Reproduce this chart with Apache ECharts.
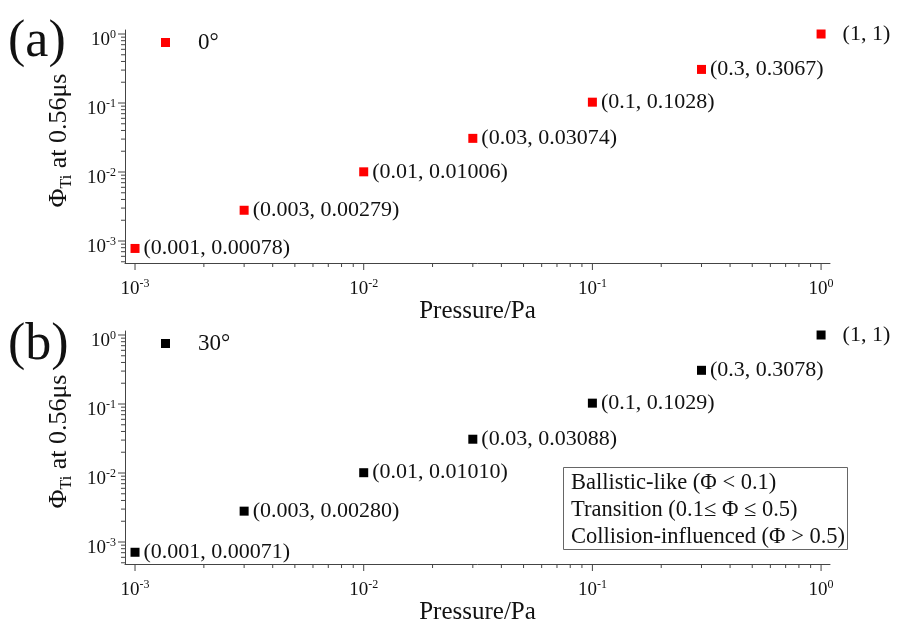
<!DOCTYPE html>
<html>
<head>
<meta charset="utf-8">
<script src="https://cdn.jsdelivr.net/npm/echarts@6.0.0/dist/echarts.min.js"></script>
<style>
html, body { margin: 0; padding: 0; background: #fff; }
#chart { width: 897px; height: 629px; }
</style>
</head>
<body>
<div id="chart"></div>
<script>
// measured values
var pressure = [0.001, 0.003, 0.01, 0.03, 0.1, 0.3, 1];
var pressureText = ['0.001', '0.003', '0.01', '0.03', '0.1', '0.3', '1'];
var phiA = [0.00078, 0.00279, 0.01006, 0.03074, 0.1028, 0.3067, 1];
var phiAText = ['0.00078', '0.00279', '0.01006', '0.03074', '0.1028', '0.3067', '1'];
var phiB = [0.00071, 0.00280, 0.01010, 0.03088, 0.1029, 0.3078, 1];
var phiBText = ['0.00071', '0.00280', '0.01010', '0.03088', '0.1029', '0.3078', '1'];
var xRange = [0.000904, 1.094];
var yRange = [0.00048, 1.143];
var panelNames = ['(a)', '(b)'];
var angleNames = ['0°', '30°'];
var regimeLines = ['Ballistic-like (Φ < 0.1)', 'Transition (0.1≤ Φ ≤ 0.5)', 'Collision-influenced (Φ > 0.5)'];

var SERIF = "'Liberation Serif', 'Times New Roman', serif";
var INK = '#111';
var AXIS = '#444';

// tick marks at 1..9 x 10^n inside the axis ranges
function tickList(range) {
  var out = [];
  for (var e = -4; e <= 0; e++) {
    for (var k = 1; k <= 9; k++) {
      var v = k * Math.pow(10, e);
      if (v >= range[0] && v <= range[1]) out.push([v, k === 1 ? 1 : 0]);
    }
  }
  return out;
}
var xTicks = tickList(xRange), yTicks = tickList(yRange);
var tickData = [];
xTicks.forEach(function (t) { tickData.push([0, t[0], t[1]]); });
yTicks.forEach(function (t) { tickData.push([1, t[0], t[1]]); });

function powLabel(v) {
  var e = Math.log10(v), r = Math.round(e);
  if (Math.abs(e - r) > 1e-6) return '';
  return '{b|10}{sup|' + r + '}';
}
var labelRich = {
  b: { fontFamily: SERIF, fontSize: 19, lineHeight: 22, color: INK },
  sup: { fontFamily: SERIF, fontSize: 12, lineHeight: 12, verticalAlign: 'top', color: INK }
};

var grids = [], xAxes = [], yAxes = [], series = [], legends = [], graphics = [];
var tops = [30, 331];
var colors = ['#ff0000', '#000000'];
var phis = [phiA, phiB], phiTexts = [phiAText, phiBText];

for (var i = 0; i < 2; i++) {
  grids.push({ left: 125, top: tops[i], width: 705, height: 233 });
  xAxes.push({
    type: 'log', gridIndex: i, min: xRange[0], max: xRange[1],
    name: 'Pressure/Pa', nameLocation: 'middle', nameGap: 21,
    nameTextStyle: { fontFamily: SERIF, fontSize: 25, color: INK },
    axisLine: { show: true, lineStyle: { color: AXIS, width: 1 } },
    axisTick: { show: false }, splitLine: { show: false },
    axisLabel: { formatter: powLabel, margin: 15, rich: labelRich }
  });
  yAxes.push({
    type: 'log', gridIndex: i, min: yRange[0], max: yRange[1],
    name: 'Φ{sub|Ti} at 0.56μs', nameLocation: 'middle', nameGap: 50,
    nameTextStyle: {
      fontFamily: SERIF, fontSize: 26, lineHeight: 32, color: INK, padding: [0, 0, 0, 12],
      rich: { sub: { fontFamily: SERIF, fontSize: 16, lineHeight: 16, verticalAlign: 'bottom', color: INK } }
    },
    axisLine: { show: true, lineStyle: { color: AXIS, width: 1 } },
    axisTick: { show: false }, splitLine: { show: false },
    axisLabel: { formatter: powLabel, margin: 9, padding: [12, 0, 0, 0], rich: labelRich }
  });

  (function (idx) {
    var data = pressure.map(function (p, j) {
      var item = { value: [p, phis[idx][j]] };
      if (j === pressure.length - 1) item.label = { distance: 17 };
      return item;
    });
    series.push({
      name: angleNames[idx], type: 'scatter', xAxisIndex: idx, yAxisIndex: idx,
      symbol: 'rect', symbolSize: 9, itemStyle: { color: colors[idx], opacity: 1 },
      data: data,
      label: {
        show: true, position: 'right', distance: 4,
        fontFamily: SERIF, fontSize: 22, color: INK,
        formatter: function (p) {
          return '(' + pressureText[p.dataIndex] + ', ' + phiTexts[idx][p.dataIndex] + ')';
        }
      }
    });
  })(i);

  series.push({
    type: 'custom', xAxisIndex: i, yAxisIndex: i, silent: true,
    encode: { x: 1, y: 1 },
    data: tickData,
    renderItem: function (params, api) {
      var kind = api.value(0), v = api.value(1), len = api.value(2) ? 7 : 4;
      var p, shape;
      if (kind === 0) {
        p = api.coord([v, yRange[0]]);
        shape = { x1: p[0], y1: p[1], x2: p[0], y2: p[1] + len };
      } else {
        p = api.coord([xRange[0], v]);
        shape = { x1: p[0] - len, y1: p[1], x2: p[0], y2: p[1] };
      }
      return { type: 'line', shape: shape, style: { stroke: AXIS, lineWidth: 1 } };
    }
  });

  legends.push({
    data: [angleNames[i]], left: 161, top: tops[i] + 1, padding: 0,
    itemWidth: 9, itemHeight: 9, icon: 'rect',
    itemStyle: { opacity: 1 },
    textStyle: { fontFamily: SERIF, fontSize: 23, color: INK, padding: [0, 0, 0, 23] }
  });

  graphics.push({
    type: 'text', x: 8, y: [42, 345][i],
    style: { text: panelNames[i], fontFamily: SERIF, fontSize: 52, fill: INK, verticalAlign: 'middle' }
  });
}

graphics.push({
  type: 'rect', left: 563, top: 467,
  shape: { width: 284, height: 82 },
  style: { fill: '#fff', stroke: '#666', lineWidth: 1 }
});
regimeLines.forEach(function (t, k) {
  graphics.push({
    type: 'text', x: 571, y: 483 + k * 27,
    style: { text: t, fontFamily: SERIF, fontSize: 22.5, fill: INK, verticalAlign: 'middle' }
  });
});

var chart = echarts.init(document.getElementById('chart'));
chart.setOption({
  animation: false,
  grid: grids, xAxis: xAxes, yAxis: yAxes,
  legend: legends, series: series, graphic: graphics
});
</script>
</body>
</html>
